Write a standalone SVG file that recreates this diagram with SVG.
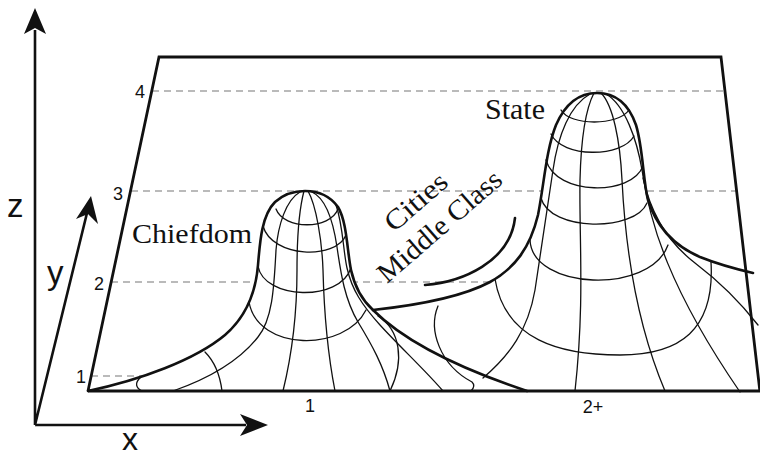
<svg xmlns="http://www.w3.org/2000/svg" width="760" height="459" viewBox="0 0 760 459">
<style>
.ax{stroke:#111;stroke-width:2.6;fill:none}
.ah{fill:#111;stroke:none}
.edge{stroke:#111;stroke-width:2.8;fill:none;stroke-linejoin:miter}
.dash{stroke:#777;stroke-width:1.2;stroke-dasharray:7 5;fill:none}
.out{stroke:#111;stroke-width:2.6;fill:none;stroke-linecap:round}
.mesh{stroke:#111;stroke-width:1.3;fill:none;stroke-linecap:round}
.sans{font-family:"Liberation Sans",Arial,sans-serif;fill:#111}
.serif{font-family:"Liberation Serif","Times New Roman",serif;fill:#111}
</style>
<rect width="760" height="459" fill="#fff"/>
<g id="axes">
<path class="ax" d="M35,425 V30 M35,425 H246 M35,425 L87,213"/>
<path class="ah" d="M35,8 L46,34 L35,28 L24,34 Z"/>
<path class="ah" d="M268,425 L240,436 L247,425 L240,414 Z"/>
<path class="ah" d="M91,196 L98,224 L88,214 L76,219 Z"/>
<text class="sans" x="7" y="217" font-size="33">z</text>
<text class="sans" x="47" y="284" font-size="33">y</text>
<text class="sans" x="122" y="450" font-size="32">x</text>
</g>
<g id="levels">
<path class="dash" d="M152,91 H725 M131,191 H736 M111,282 H752 M91,376 H300"/>
<text class="sans" x="135" y="98" font-size="18">4</text>
<text class="sans" x="113" y="200" font-size="18">3</text>
<text class="sans" x="94" y="290" font-size="18">2</text>
<text class="sans" x="76" y="383" font-size="18">1</text>
</g>
<g id="surface">
<path fill="#fff" stroke="none" d="M88,391 C140,380 195,360 225,335 C248,315 256,290 258,265 C260,240 262,215 275,202 C285,193 295,191 305,191 C318,191 330,196 338,207 C347,222 347,250 351,270 C355,288 362,300 373,310 C410,306 460,298 490,282 C515,268 530,248 538,215 C544,185 546,150 556,125 C566,102 580,93 597,93 C614,93 628,102 636,125 C643,148 643,180 648,200 C656,225 672,245 700,257 C720,265 740,270 753,273 L760,392 L88,392 Z"/>
</g>
<g id="plane">
<path class="edge" d="M88,391 L159,57 L721,57 L760,392 M88,391 H760"/>
</g>
<g id="chiefdom">
<path class="mesh" d="M276,209 C284,230 330,230 338,209"/>
<path class="mesh" d="M263,226 C272,258 336,260 346,235"/>
<path class="mesh" d="M258,266 C264,300 340,302 351,268"/>
<path class="mesh" d="M249,302 C258,352 345,352 366,310"/>
<path class="mesh" d="M300,192 C286,200 278,225 276,250 C274,290 272,320 258,337 C240,360 210,378 173,391"/>
<path class="mesh" d="M304,191 C299,210 297,240 297,270 C297,310 293,350 283,391"/>
<path class="mesh" d="M308,191 C316,205 322,240 323,270 C324,310 327,350 335,391"/>
<path class="mesh" d="M312,192 C325,198 333,220 337,247 C341,275 345,300 358,322 C372,345 383,365 390,391"/>
<path class="mesh" d="M336,205 C343,225 343,250 347,268 C352,290 362,305 380,325 C400,347 425,370 443,391"/>
<path class="mesh" d="M205,352 C215,362 220,375 222,391"/>
<path class="mesh" d="M378,316 C400,330 405,360 390,391"/>
<path class="mesh" d="M141,377 C134,383 136,388 142,391"/>
<path class="out" d="M88,391 C140,380 195,360 225,335 C248,315 256,290 258,265 C260,240 262,215 275,202 C285,193 295,191 305,191 C318,191 330,196 338,207 C347,222 347,250 351,270 C355,288 362,300 373,310 C395,332 440,362 527,391"/>
<text class="serif" x="132" y="243" font-size="28" textLength="120" lengthAdjust="spacingAndGlyphs">Chiefdom</text>
</g>
<g id="state">
<path class="mesh" d="M561,110 C570,126 618,126 629,110"/>
<path class="mesh" d="M551,134 C562,158 622,158 634,136"/>
<path class="mesh" d="M546,160 C556,196 632,196 643,166"/>
<path class="mesh" d="M541,198 C550,232 635,232 647,203"/>
<path class="mesh" d="M530,240 C532,290 650,295 668,245"/>
<path class="mesh" d="M495,279 C505,340 560,355 620,355 C680,355 715,330 711,262"/>
<path class="mesh" d="M438,306 C428,330 440,365 472,382 C475,385 474,388 471,391"/>
<path class="mesh" d="M590,94 C570,105 558,135 553,170 C546,215 540,255 535,290 C528,330 510,355 483,378"/>
<path class="mesh" d="M594,93 C585,110 581,140 580,180 C579,240 585,300 575,391"/>
<path class="mesh" d="M601,93 C613,105 620,140 622,180 C625,240 635,320 665,391"/>
<path class="mesh" d="M606,94 C625,105 637,140 642,170 C650,225 670,290 740,392"/>
<path class="mesh" d="M643,178 C650,210 665,240 695,263 C720,282 740,302 758,325"/>
<path class="out" d="M373,310 C410,306 460,298 490,282 C515,268 530,248 538,215 C544,185 546,150 556,125 C566,102 580,93 597,93 C614,93 628,102 636,125 C643,148 643,180 648,200 C656,225 672,245 700,257 C720,265 740,270 753,273"/>
<text class="serif" x="485" y="119" font-size="29" textLength="60" lengthAdjust="spacingAndGlyphs">State</text>
</g>
<g id="cities">
<path class="out" d="M425,285 C462,282 510,262 515,218"/>
<text class="serif" font-size="28" transform="translate(394,233) rotate(-41)" textLength="74" lengthAdjust="spacingAndGlyphs">Cities</text>
<text class="serif" font-size="28" transform="translate(387,284) rotate(-41)" textLength="155" lengthAdjust="spacingAndGlyphs">Middle Class</text>
</g>
<g id="xlabels">
<text class="sans" x="310" y="412" font-size="18" text-anchor="middle">1</text>
<text class="sans" x="593" y="413" font-size="18" text-anchor="middle">2+</text>
</g>
</svg>
